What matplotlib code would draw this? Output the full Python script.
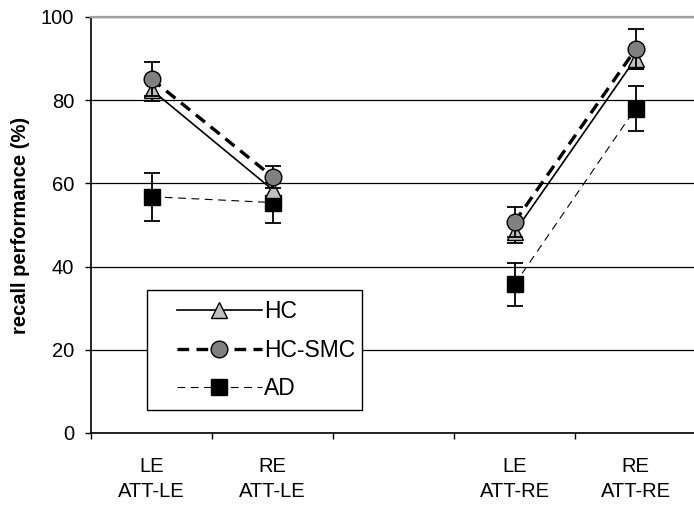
import matplotlib
matplotlib.use("Agg")
import matplotlib.pyplot as plt
from matplotlib.patches import Rectangle
import numpy as np

plt.rcParams['font.family'] = ['Liberation Sans', 'DejaVu Sans']

categories = ["LE\nATT-LE", "RE\nATT-LE", "", "LE\nATT-RE", "RE\nATT-RE"]

hc_vals = [82.5, 58.5, None, 48.3, 90.0]
hc_err = [2.6, 2.6, None, 2.6, 2.5]
smc_vals = [85.1, 61.6, None, 50.7, 92.2]
smc_err = [4.2, 2.7, None, 3.7, 4.8]
ad_vals = [56.8, 55.4, None, 35.7, 78.0]
ad_err = [5.8, 4.8, None, 5.2, 5.4]

groups = [[0, 1], [3, 4]]

fig = plt.figure(figsize=(6.94, 5.16), dpi=100)
ax = fig.add_axes([91/694, 1-433/516, 605/694, (433-17)/516])

x = np.arange(len(categories)) + 0.5

def draw(vals, errs, ls, lw, marker, ms, fc, label, z):
    first = True
    for g in groups:
        xs = [x[i] for i in g]
        ys = [vals[i] for i in g]
        es = [errs[i] for i in g]
        ax.errorbar(xs, ys, yerr=es, fmt='none', ecolor='black', elinewidth=1.3,
                    capsize=5.5, capthick=1.3, zorder=z)
        ax.plot(xs, ys, linestyle=ls, color='black', linewidth=lw, marker=marker,
                markersize=ms, markerfacecolor=fc, markeredgecolor='black',
                markeredgewidth=1.0, zorder=z + 0.5,
                label=label if first else None)
        first = False

draw(ad_vals, ad_err, (0, (7, 5)), 0.8, 's', 12, 'black', 'AD', 3)
draw(hc_vals, hc_err, '-', 1.2, '^', 11.5, '#c0c0c0', 'HC', 4)
draw(smc_vals, smc_err, (0, (3.5, 2.2)), 2.4, 'o', 12, '#808080', 'HC-SMC', 5)

ax.set_xlim(0, 5)
ax.set_ylim(0, 100)
ax.set_yticks([0, 20, 40, 60, 80, 100])
ax.yaxis.grid(True, color='black', linewidth=0.9)
ax.set_axisbelow(True)

ax.set_xticks(np.arange(0, 6))
ax.set_xticklabels([])
ax.set_xticks(x, minor=True)
ax.set_xticklabels(categories, minor=True, fontsize=14.5, linespacing=1.45)
ax.tick_params(axis='x', which='minor', length=0, pad=17)
ax.tick_params(axis='x', which='major', direction='out', length=4, width=1, colors='black')
ax.tick_params(axis='y', direction='out', length=4, width=1, labelsize=14.5, pad=8)

ax.spines['right'].set_visible(False)
ax.spines['top'].set_color('#a0a0a0')
ax.spines['top'].set_linewidth(1.6)
ax.spines['left'].set_linewidth(1.2)
ax.spines['bottom'].set_linewidth(1.2)

ax.set_ylabel("recall performance (%)", fontsize=14.5, fontweight='bold', labelpad=8)

# legend frame
W, H = 694, 516
fig.patches.append(Rectangle((147/W, 1-410/H), (362-147)/W, (410-290)/H,
                             transform=fig.transFigure, facecolor='white',
                             edgecolor='black', linewidth=1.0, zorder=10))

handles, labels = ax.get_legend_handles_labels()
order = [labels.index(n) for n in ["HC", "HC-SMC", "AD"]]
fs = 16.5
leg = fig.legend([handles[i] for i in order], [labels[i] for i in order],
                 loc='upper left', bbox_to_anchor=(177/W, 1-300/H),
                 fontsize=fs, handlelength=85/(fs*100/72), frameon=False,
                 borderpad=0, labelspacing=0.68, handletextpad=0.1,
                 borderaxespad=0)
leg.set_zorder(11)

fig.savefig("out.png", dpi=100)
